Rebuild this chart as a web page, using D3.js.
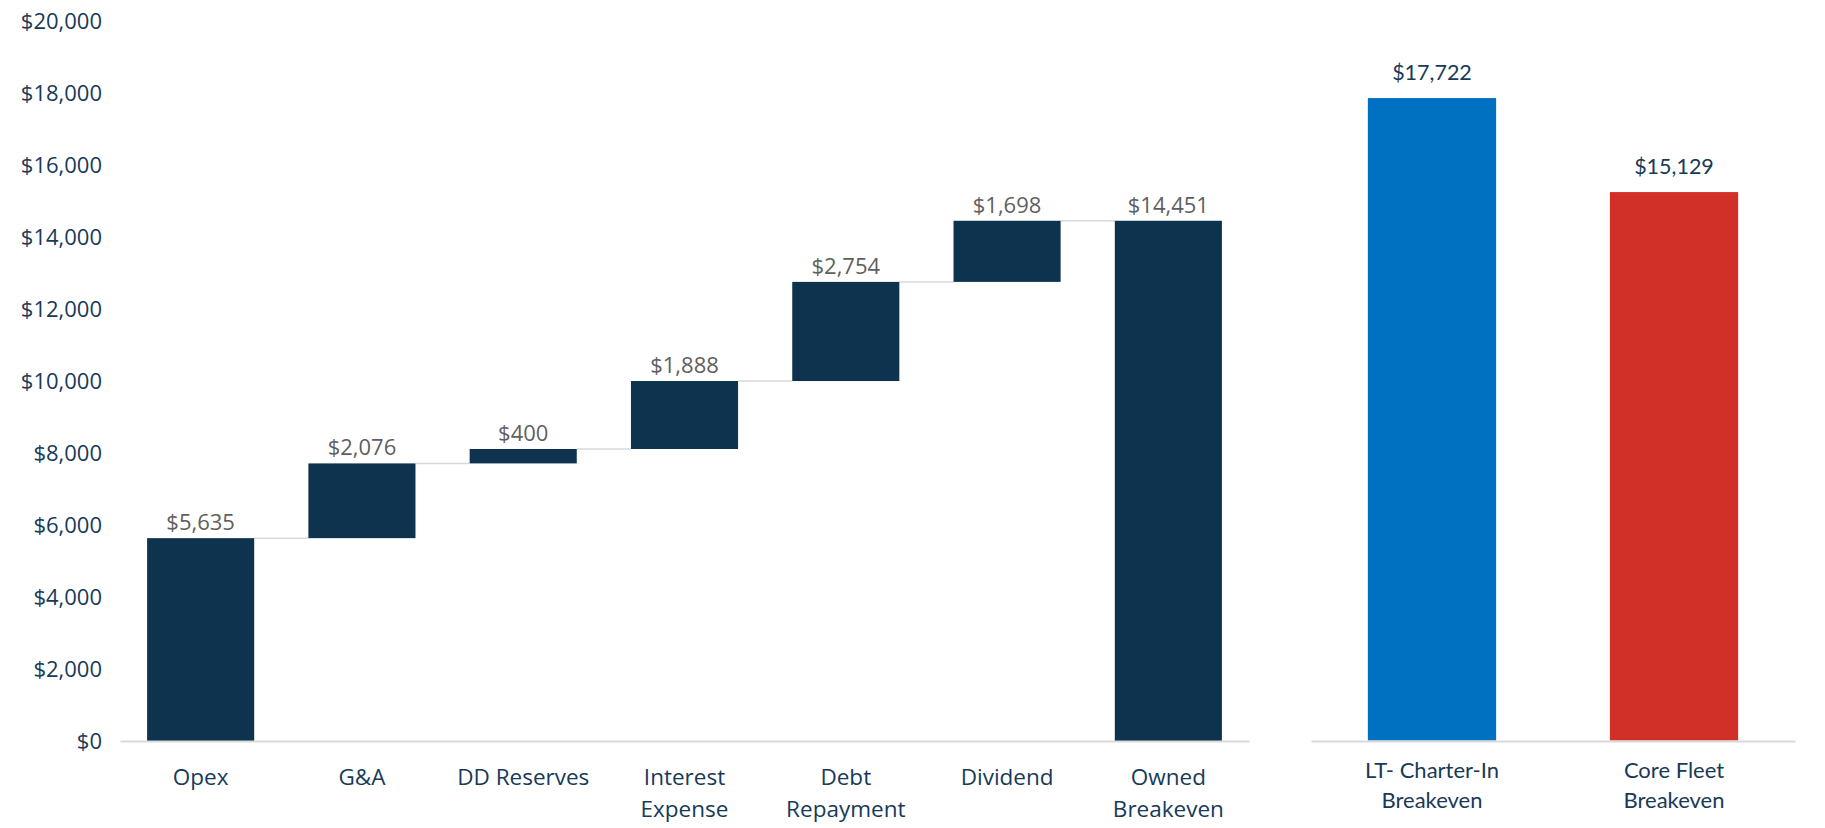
<!DOCTYPE html>
<html>
<head>
<meta charset="utf-8">
<script src="https://cdn.jsdelivr.net/npm/d3@7"></script>
<style>
  html, body { margin: 0; padding: 0; background: #ffffff; }
  svg { display: block; }
</style>
</head>
<body>
<svg id="chart" width="1825" height="828"></svg>
<script>
// Cost build-up (waterfall) per vessel day
const stepCategories = ["Opex", "G&A", "DD Reserves", "Interest\nExpense", "Debt\nRepayment", "Dividend"];
const stepValues = [5635, 2076, 400, 1888, 2754, 1698];
const totalCategory = "Owned\nBreakeven";
const totalValue = 14451;

// Comparison breakevens
const compareCategories = ["LT- Charter-In\nBreakeven", "Core Fleet\nBreakeven"];
const compareValues = [17722, 15129];
const compareColors = ["#0070c0", "#d03027"];

const yTicks = [0, 2000, 4000, 6000, 8000, 10000, 12000, 14000, 16000, 18000, 20000];

const navy = "#0e334f";
const textNavy = "#173a58";
const labelGray = "#5f5f5f";
const ruleGray = "#d9d9d9";
const mainFont = "'Open Sans', 'Noto Sans', sans-serif";
const sideFont = "Lato, 'Open Sans', sans-serif";
const fmt = d3.format("$,");

const svg = d3.select("#chart");

// ---- waterfall panel ----
const wfCats = stepCategories.concat([totalCategory]);
let running = 0;
const wfData = stepValues.map((v, i) => {
  const d = { cat: stepCategories[i], start: running, end: running + v, value: v };
  running += v;
  return d;
});
wfData.push({ cat: totalCategory, start: 0, end: totalValue, value: totalValue });

const x = d3.scaleBand().domain(wfCats).range([120, 1249]).paddingInner(0.336).paddingOuter(0.168);
const y = d3.scaleLinear().domain([0, 20000]).range([741, 21]);

// y axis labels
const yAxis = svg.append("g")
  .attr("transform", "translate(102,0)")
  .call(d3.axisLeft(y).tickValues(yTicks).tickFormat(fmt).tickSize(0).tickPadding(0));
yAxis.select(".domain").remove();
yAxis.selectAll("text")
  .attr("fill", textNavy)
  .style("font-family", mainFont)
  .style("font-size", "22px");

// connector lines between consecutive bars
const wfLinks = wfData.slice(0, -1).map((d, i) => ({ from: d, to: wfData[i + 1] }));
svg.append("g").selectAll("line")
  .data(wfLinks)
  .join("line")
  .attr("x1", d => x(d.from.cat) + x.bandwidth())
  .attr("x2", d => x(d.to.cat))
  .attr("y1", d => y(d.from.end))
  .attr("y2", d => y(d.from.end))
  .attr("stroke", ruleGray)
  .attr("stroke-width", 1.5);

// bars
svg.append("g").selectAll("rect")
  .data(wfData)
  .join("rect")
  .attr("x", d => x(d.cat))
  .attr("width", x.bandwidth())
  .attr("y", d => y(d.end))
  .attr("height", d => y(d.start) - y(d.end))
  .attr("fill", navy);

// value labels
svg.append("g").selectAll("text")
  .data(wfData)
  .join("text")
  .attr("x", d => x(d.cat) + x.bandwidth() / 2)
  .attr("y", d => y(d.end) - 8)
  .attr("text-anchor", "middle")
  .attr("fill", labelGray)
  .style("font-family", mainFont)
  .style("font-size", "22px")
  .text(d => fmt(d.value));

// baseline + category labels
const xAxis = svg.append("g")
  .attr("transform", "translate(0,741)")
  .call(d3.axisBottom(x).tickSize(0).tickPadding(0));
xAxis.select(".domain").attr("stroke", ruleGray).attr("stroke-width", 2);

function wrapLabels(sel, firstY, lineH, font, size) {
  sel.each(function (d) {
    const t = d3.select(this).text(null)
      .attr("dy", null)
      .attr("y", null)
      .attr("fill", textNavy)
      .attr("text-anchor", "middle")
      .style("font-family", font)
      .style("font-size", size);
    d.split("\n").forEach((line, i) => {
      t.append("tspan").attr("x", 0).attr("y", firstY + i * lineH).text(line);
    });
  });
}
xAxis.selectAll(".tick text")
  .call(wrapLabels, 44, 32, mainFont, "22.5px");

// ---- comparison panel ----
const x2 = d3.scaleBand().domain(compareCategories).range([1311, 1795]).paddingInner(0.47).paddingOuter(0.235);
const y2 = d3.scaleLinear().domain([0, 20000]).range([740.5, 15.5]);

svg.append("g").selectAll("rect")
  .data(compareValues)
  .join("rect")
  .attr("x", (d, i) => x2(compareCategories[i]))
  .attr("width", x2.bandwidth())
  .attr("y", d => y2(d))
  .attr("height", d => y2(0) - y2(d))
  .attr("fill", (d, i) => compareColors[i]);

svg.append("g").selectAll("text")
  .data(compareValues)
  .join("text")
  .attr("x", (d, i) => x2(compareCategories[i]) + x2.bandwidth() / 2)
  .attr("y", d => y2(d) - 18)
  .attr("text-anchor", "middle")
  .attr("fill", textNavy)
  .style("font-family", sideFont)
  .style("font-size", "21.5px")
  .text(d => fmt(d));

const xAxis2 = svg.append("g")
  .attr("transform", "translate(0,741)")
  .call(d3.axisBottom(x2).tickSize(0).tickPadding(0));
xAxis2.select(".domain").attr("stroke", ruleGray).attr("stroke-width", 2);
xAxis2.selectAll(".tick text")
  .call(wrapLabels, 37, 30, sideFont, "22px");
</script>
</body>
</html>
